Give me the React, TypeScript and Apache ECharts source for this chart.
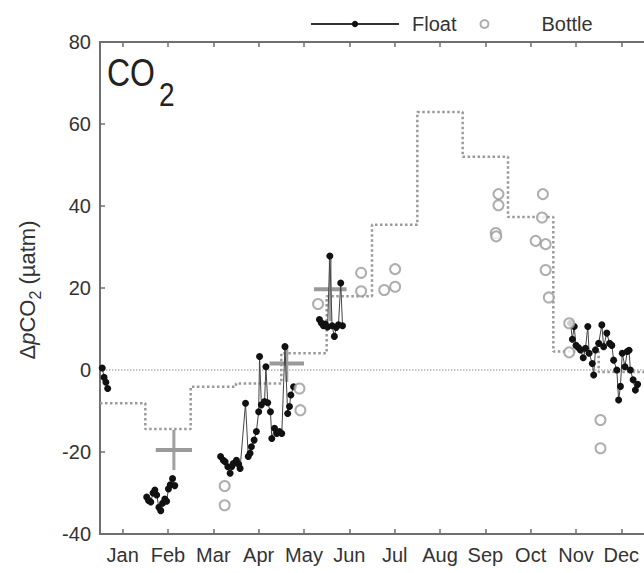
import React, { useEffect, useRef } from 'react';
import * as echarts from 'echarts';

// ---- data ----
const months = ['Jan', 'Feb', 'Mar', 'Apr', 'May', 'Jun', 'Jul', 'Aug', 'Sep', 'Oct', 'Nov', 'Dec'];
const yMin = -40;
const yMax = 80;
const yInterval = 20;

// monthly climatology (dotted step line), Jan..Dec
const climatology = [-8.1, -14.4, -4.1, -3.3, 4.1, 18.0, 35.4, 62.9, 52.0, 37.3, 4.5, -0.5];

// float records: [month (fractional, 0 = 1 Jan), dpCO2]
const floatJan = [[0.05, 0.5], [0.09, -1.8], [0.13, -3.0], [0.17, -4.5]];
const floatFeb = [
  [1.03, -31.0], [1.07, -31.8], [1.12, -32.2], [1.17, -30.0], [1.21, -29.3], [1.25, -30.5],
  [1.30, -33.5], [1.34, -34.3], [1.38, -32.5], [1.43, -31.5], [1.47, -32.0], [1.51, -29.0],
  [1.55, -28.0], [1.60, -26.5], [1.65, -28.2],
];
const floatMarMay = [
  [2.66, -21.1], [2.72, -22.0], [2.76, -22.4], [2.82, -23.6], [2.87, -25.2], [2.91, -23.5],
  [2.94, -22.8], [3.01, -22.0], [3.06, -23.0], [3.09, -24.0], [3.21, -8.1], [3.27, -21.1],
  [3.31, -20.3], [3.34, -18.7], [3.40, -17.1], [3.45, -15.0], [3.50, -10.2], [3.52, 3.3],
  [3.56, -8.5], [3.63, -7.7], [3.66, 0.8], [3.70, -8.0], [3.76, -10.2], [3.79, -16.7],
  [3.85, -14.2], [3.90, -15.5], [3.96, -15.0], [4.01, -15.5], [4.08, 5.7], [4.14, -10.6],
  [4.18, -8.9], [4.21, -6.1], [4.27, -4.1],
];
const floatJun = [
  [4.84, 12.3], [4.88, 11.5], [4.93, 10.8], [4.97, 11.2], [5.02, 10.5], [5.07, 27.8],
  [5.12, 10.8], [5.17, 8.2], [5.21, 10.4], [5.26, 11.0], [5.31, 21.2], [5.35, 10.8],
];
const floatNovDec = [
  [10.38, 11.4], [10.42, 7.5], [10.46, 10.6], [10.50, 6.0], [10.55, 5.5], [10.60, 4.9],
  [10.66, 3.0], [10.71, 5.3], [10.76, 10.6], [10.79, 4.1], [10.86, 1.6], [10.89, -1.2],
  [10.93, 4.9], [11.00, 6.5], [11.07, 11.0], [11.11, 5.7], [11.18, 9.0], [11.24, 6.5],
  [11.29, 6.0], [11.33, 2.4], [11.40, 0.0], [11.44, -7.3], [11.48, -4.0], [11.52, 4.1],
  [11.58, 0.8], [11.63, 4.5], [11.67, 4.8], [11.70, 0.0], [11.76, -2.4], [11.81, -4.9],
  [11.86, -3.5],
];
const floatSegments = [floatJan, floatFeb, floatMarMay, floatJun, floatNovDec];

// bottle samples
const bottle = [
  [2.75, -28.3], [2.75, -33.0],
  [4.40, -4.5], [4.42, -9.8], [4.81, 16.1],
  [5.76, 23.7], [5.76, 19.2],
  [6.27, 19.5], [6.51, 24.6], [6.51, 20.3],
  [8.79, 42.9], [8.79, 40.2], [8.73, 33.4], [8.74, 32.6],
  [9.77, 42.9], [9.75, 37.2], [9.61, 31.5], [9.83, 30.7], [9.83, 24.4], [9.90, 17.7],
  [10.35, 11.4], [10.35, 4.3], [11.04, -12.2], [11.04, -19.1],
];

// monthly float means (crosses): position, mean, spread, half width (months)
const crossMonth = [1.63, 4.12, 5.08];
const crossMean = [-19.5, 1.6, 19.7];
const crossSpread = [4.9, 4.5, 7.8];
const crossHalfWidth = [0.4, 0.38, 0.36];

const FONT = '"Liberation Sans", Arial, Helvetica, sans-serif';
const AXIS_COLOR = '#6f6f6f';
const TEXT_COLOR = '#333';

export default function App() {
  const ref = useRef<HTMLDivElement>(null);

  useEffect(() => {
    if (!ref.current) return;
    const chart = echarts.init(ref.current, undefined, { renderer: 'svg' });

    const stepData = climatology.map((v, i) => [i, v]);
    stepData.push([12, climatology[climatology.length - 1]]);

    const crossData = crossMonth.map((x, i) => [x, crossMean[i], crossSpread[i], crossHalfWidth[i]]);

    const catAxisCommon = {
      type: 'category',
      data: months,
      boundaryGap: true,
      gridIndex: 0,
      axisLine: { show: true, lineStyle: { color: AXIS_COLOR, width: 2 } },
      axisTick: {
        show: true,
        inside: true,
        alignWithLabel: true,
        interval: 0,
        length: 5,
        lineStyle: { color: AXIS_COLOR, width: 1.5 },
      },
      splitLine: { show: false },
    };

    const floatSeries = floatSegments.map((seg) => ({
      name: 'Float',
      type: 'line',
      xAxisIndex: 0,
      yAxisIndex: 0,
      data: seg,
      symbol: 'circle',
      symbolSize: 7,
      showSymbol: true,
      itemStyle: { color: '#111' },
      lineStyle: { color: '#444', width: 1 },
      z: 5,
    }));

    const option: any = {
      animation: false,
      backgroundColor: '#fff',
      textStyle: { fontFamily: FONT },
      grid: { left: 100, top: 42, width: 551, height: 492 },
      legend: {
        data: ['Float', 'Bottle'],
        left: 305,
        top: 9,
        itemWidth: 88,
        itemHeight: 8,
        itemGap: 23,
        lineStyle: { width: 2, color: '#333' },
        textStyle: { fontSize: 20, color: TEXT_COLOR, fontFamily: FONT, padding: [0, 0, 0, 8] },
      },
      xAxis: [
        { type: 'value', min: 0, max: 12, show: false, gridIndex: 0 },
        {
          ...catAxisCommon,
          position: 'bottom',
          axisLabel: { show: true, interval: 0, fontSize: 20, color: TEXT_COLOR, margin: 11, fontFamily: FONT },
        },
        {
          ...catAxisCommon,
          position: 'top',
          axisLabel: { show: false },
        },
      ],
      yAxis: [
        {
          type: 'value',
          min: yMin,
          max: yMax,
          interval: yInterval,
          axisLine: { show: true, lineStyle: { color: AXIS_COLOR, width: 2 } },
          axisTick: { show: true, inside: true, length: 5, lineStyle: { color: AXIS_COLOR, width: 1.5 } },
          axisLabel: { fontSize: 20, color: TEXT_COLOR, margin: 9, fontFamily: FONT },
          splitLine: { show: false },
        },
      ],
      graphic: [
        {
          type: 'text',
          x: 30,
          y: 290,
          rotation: Math.PI / 2,
          style: {
            text: '{m|Δ}{i|p}{m|CO}{s|2}{m| (µatm)}',
            align: 'center',
            verticalAlign: 'middle',
            fill: TEXT_COLOR,
            rich: {
              m: { fontSize: 22, fontFamily: FONT, fill: TEXT_COLOR, lineHeight: 27, verticalAlign: 'top' },
              i: { fontSize: 22, fontFamily: FONT, fontStyle: 'italic', fill: TEXT_COLOR, lineHeight: 27, verticalAlign: 'top' },
              s: { fontSize: 16, fontFamily: FONT, fill: TEXT_COLOR, lineHeight: 16, verticalAlign: 'bottom' },
            },
          },
        },
        {
          type: 'text',
          x: 107,
          y: 72.5,
          scaleX: 0.82,
          style: { text: 'CO', fontSize: 39, fontFamily: FONT, fill: '#222', align: 'left', verticalAlign: 'middle' },
        },
        {
          type: 'text',
          x: 159,
          y: 94,
          scaleX: 0.85,
          style: { text: '2', fontSize: 33, fontFamily: FONT, fill: '#222', align: 'left', verticalAlign: 'middle' },
        },
      ],
      series: [
        {
          name: 'zero',
          type: 'line',
          xAxisIndex: 0,
          data: [[0, 0], [12, 0]],
          symbol: 'none',
          lineStyle: { color: '#b5b5b5', width: 1.5, type: 'dotted' },
          silent: true,
          z: 1,
        },
        {
          name: 'Climatology',
          type: 'line',
          xAxisIndex: 0,
          step: 'end',
          data: stepData,
          symbol: 'none',
          lineStyle: { color: '#9a9a9a', width: 2.5, type: 'dotted' },
          z: 2,
        },
        {
          name: 'Monthly mean',
          type: 'custom',
          xAxisIndex: 0,
          data: crossData,
          encode: { x: 0, y: 1 },
          z: 3,
          renderItem: (params: any, api: any) => {
            const x = api.value(0);
            const m = api.value(1);
            const s = api.value(2);
            const hw = api.value(3);
            const pL = api.coord([x - hw, m]);
            const pR = api.coord([x + hw, m]);
            const pT = api.coord([x, m + s]);
            const pB = api.coord([x, m - s]);
            return {
              type: 'group',
              children: [
                { type: 'line', shape: { x1: pT[0], y1: pT[1], x2: pB[0], y2: pB[1] }, style: { stroke: '#a0a0a0', lineWidth: 3 } },
                { type: 'line', shape: { x1: pL[0], y1: pL[1], x2: pR[0], y2: pR[1] }, style: { stroke: '#9a9a9a', lineWidth: 4 } },
              ],
            };
          },
        },
        ...floatSeries,
        {
          name: 'Bottle',
          type: 'scatter',
          xAxisIndex: 0,
          data: bottle,
          symbol: 'emptyCircle',
          symbolSize: 10,
          itemStyle: { color: '#9a9a9a', borderWidth: 1.5 },
          z: 6,
        },
      ],
    };

    chart.setOption(option);
    return () => chart.dispose();
  }, []);

  return <div ref={ref} style={{ position: 'fixed', left: 0, top: 0, width: 644, height: 573 }} />;
}
